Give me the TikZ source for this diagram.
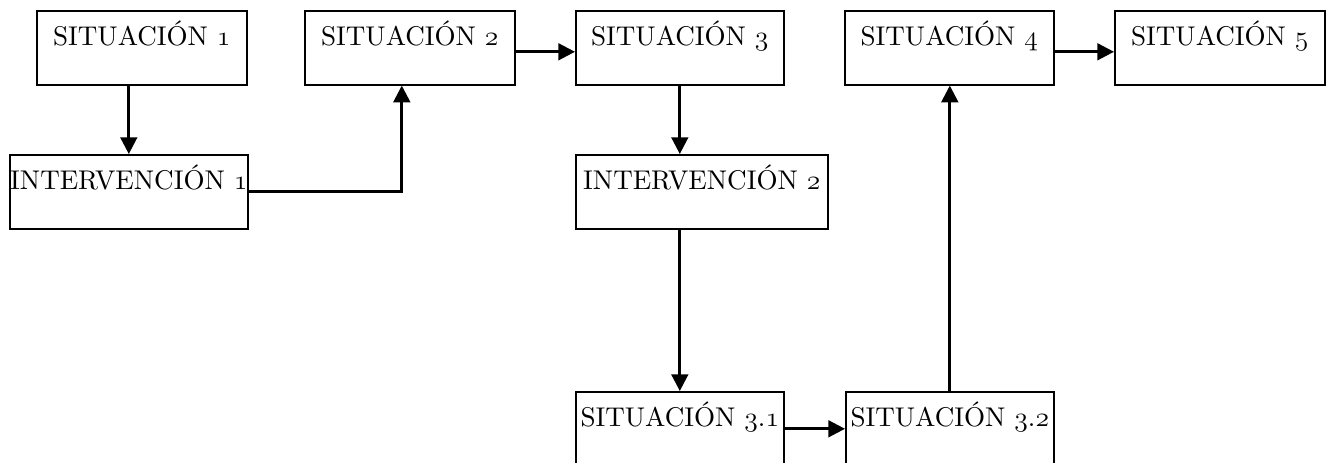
\documentclass[tikz,border=0pt]{standalone}
\usepackage{fontspec}
\setmainfont{lmroman10-regular.otf}
\usetikzlibrary{arrows.meta}
\newcommand{\osn}[1]{{\usefont{OML}{lmm}{m}{it}#1}}
\tikzset{
	stagebox/.style={draw, line width=1.2pt, inner sep=0pt, anchor=north west,
		text height=26.25pt, text depth=29.25pt, font=\fontsize{20.3}{24}\selectfont},
	flowarrow/.style={line width=2pt, -{Triangle[length=12.5pt,width=12.5pt]}}}

\begin{document}
\begin{tikzpicture}[x=0.75pt,y=0.75pt,yscale=-1,xscale=1]
	\useasboundingbox (0,0) rectangle (1333,463);

	% Situation boxes, top row
	\node [stagebox, minimum width=157.5pt] (s1) at (36,10) {SITUACIÓN \osn{1}};
	\node [stagebox, minimum width=157.5pt] (s2) at (304,10) {SITUACIÓN \osn{2}};
	\node [stagebox, minimum width=156pt] (s3) at (575,10) {SITUACIÓN \osn{3}};
	\node [stagebox, minimum width=156.75pt] (s4) at (844,10) {SITUACIÓN \osn{4}};
	\node [stagebox, minimum width=157.5pt] (s5) at (1114,10) {SITUACIÓN \osn{5}};
	% Interventions
	\node [stagebox, minimum width=178.5pt] (i1) at (9,154) {INTERVENCIÓN \osn{1}};
	\node [stagebox, minimum width=189pt] (i2) at (575,154) {INTERVENCIÓN \osn{2}};
	% Sub situations, bottom row
	\node [stagebox, minimum width=156pt] (s31) at (575,391) {SITUACIÓN \osn{3}.\osn{1}};
	\node [stagebox, minimum width=156pt] (s32) at (845,391) {SITUACIÓN \osn{3}.\osn{2}};

	% Connectors
	\draw [flowarrow] (s1.south -| i1.north) -- (i1.north);
	\draw [flowarrow] (i1.east) -| ([xshift=-6pt]s2.south);
	\draw [flowarrow] ([yshift=3pt]s2.east) -- ([yshift=3pt]s3.west);
	\draw [flowarrow] (s3.south) -- (s3.south |- i2.north);
	\draw [flowarrow] (i2.south -| s31.north) -- (s31.north);
	\draw [flowarrow] (s31.east) -- (s32.west);
	\draw [flowarrow] (s32.north) -- (s32.north |- s4.south);
	\draw [flowarrow] ([yshift=3pt]s4.east) -- ([yshift=3pt]s5.west);

\end{tikzpicture}
\end{document}
